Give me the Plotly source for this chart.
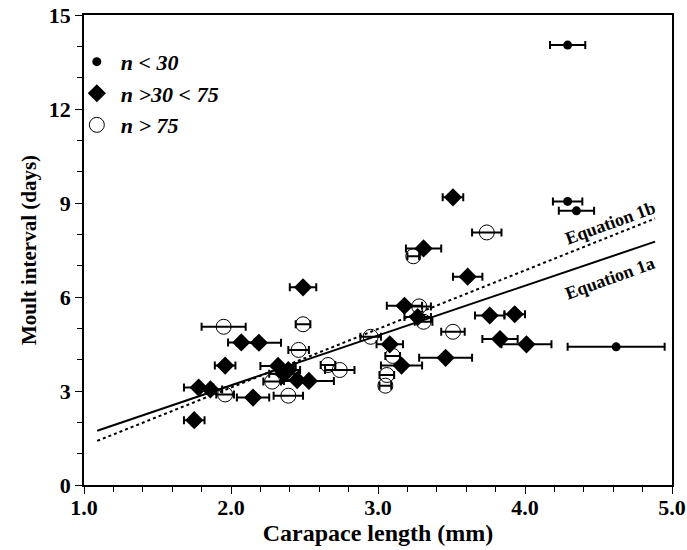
import plotly.graph_objects as go

# n < 30 (filled circles)
small_x = [4.29, 4.29, 4.35, 4.62]
small_y = [14.04, 9.05, 8.75, 4.41]
small_err = [0.12, 0.10, 0.12, 0.33]

# n > 30 < 75 (diamonds)
mid_x = [3.51, 3.31, 3.61, 2.49, 3.18, 3.27, 3.76, 3.93, 3.83, 4.01, 3.08, 3.46, 3.16,
         2.07, 2.19, 1.96, 1.78, 1.86, 2.15, 1.75, 2.32, 2.36, 2.39, 2.45, 2.53]
mid_y = [9.18, 7.55, 6.65, 6.31, 5.72, 5.36, 5.41, 5.45, 4.66, 4.49, 4.49, 4.06, 3.81,
         4.55, 4.54, 3.81, 3.11, 3.05, 2.79, 2.07, 3.80, 3.55, 3.67, 3.35, 3.32]
mid_err = [0.07, 0.12, 0.10, 0.09, 0.12, 0.09, 0.10, 0.07, 0.12, 0.17, 0.09, 0.18, 0.14,
           0.09, 0.15, 0.07, 0.10, 0.08, 0.11, 0.07, 0.12, 0.10, 0.08, 0.10, 0.17]

# n > 75 (open circles)
big_x = [3.74, 3.24, 3.28, 3.31, 3.51, 2.95, 3.10, 3.06, 3.05, 2.49, 2.46, 2.66, 2.74,
         2.39, 2.28, 1.95, 1.96]
big_y = [8.06, 7.30, 5.70, 5.21, 4.89, 4.73, 4.12, 3.51, 3.17, 5.13, 4.31, 3.83, 3.67,
         2.85, 3.30, 5.05, 2.89]
big_err = [0.10, 0.04, 0.08, 0.06, 0.08, 0.07, 0.05, 0.05, 0.04, 0.05, 0.07, 0.05, 0.10,
           0.10, 0.06, 0.15, 0.06]

# Regression lines
line_x = [1.09, 4.885]
eq1a = (1.59, 0.0)     # slope, intercept
eq1b = (1.87, -0.63)

serif = "Liberation Serif"
fig = go.Figure()

def errx(e):
    return dict(type="data", array=e, visible=True, color="black", thickness=2, width=4)

fig.add_trace(go.Scatter(
    x=line_x, y=[eq1a[0] * v + eq1a[1] for v in line_x], mode="lines",
    line=dict(color="black", width=2), showlegend=False, hoverinfo="skip"))
fig.add_trace(go.Scatter(
    x=line_x, y=[eq1b[0] * v + eq1b[1] for v in line_x], mode="lines",
    line=dict(color="black", width=2, dash="dot"), showlegend=False, hoverinfo="skip"))

fig.add_trace(go.Scatter(
    x=small_x, y=small_y, mode="markers", name="<b><i>n &lt; 30</i></b>",
    marker=dict(symbol="circle", size=9, color="black"), error_x=errx(small_err)))
fig.add_trace(go.Scatter(
    x=mid_x, y=mid_y, mode="markers", name="<b><i>n &gt;30 &lt; 75</i></b>",
    marker=dict(symbol="diamond", size=14, color="black"), error_x=errx(mid_err)))
fig.add_trace(go.Scatter(
    x=big_x, y=big_y, mode="markers", name="<b><i>n &gt; 75</i></b>",
    marker=dict(symbol="circle-open", size=15, color="black", line=dict(width=1)),
    error_x=errx(big_err)))

fig.add_annotation(x=4.58, y=8.36, text="<b>Equation 1b</b>",
                   showarrow=False, textangle=-20,
                   font=dict(family=serif, size=18, color="black"))
fig.add_annotation(x=4.58, y=6.61, text="<b>Equation 1a</b>",
                   showarrow=False, textangle=-20,
                   font=dict(family=serif, size=18, color="black"))

fig.update_layout(
    width=687, height=550,
    margin=dict(l=84, r=15, t=15, b=65),
    plot_bgcolor="white", paper_bgcolor="white",
    font=dict(family=serif, color="black"),
    legend=dict(x=-0.019, y=0.945, xanchor="left", yanchor="top",
                font=dict(family=serif, size=22, color="black"),
                bgcolor="rgba(0,0,0,0)", tracegroupgap=0, itemwidth=38),
    xaxis=dict(range=[1.0, 5.0], tickvals=[1, 2, 3, 4, 5],
               ticktext=["1.0", "2.0", "3.0", "4.0", "5.0"], automargin=False,
               ticks="outside", ticklen=7, tickwidth=1, tickcolor="black",
               showline=True, linecolor="black", linewidth=1.5, mirror=True,
               showgrid=False, zeroline=False, ticklabeloverflow="allow",
               ticklabelstandoff=-5,
               tickfont=dict(family=serif, size=22, weight="bold"),
               minor=dict(dtick=0.2, ticks="outside", ticklen=5, tickcolor="black", showgrid=False),
               title=dict(text="<b>Carapace length (mm)</b>", standoff=4,
                          font=dict(family=serif, size=24))),
    yaxis=dict(range=[0, 15], tickvals=[0, 3, 6, 9, 12, 15], automargin=False,
               ticks="outside", ticklen=7, tickwidth=1, tickcolor="black",
               showline=True, linecolor="black", linewidth=1.5, mirror=True,
               showgrid=False, zeroline=False, ticklabeloverflow="allow",
               tickfont=dict(family=serif, size=22, weight="bold"),
               minor=dict(dtick=1, ticks="outside", ticklen=5, tickcolor="black", showgrid=False),
               title=dict(text="<b>Moult interval (days)</b>", standoff=6,
                          font=dict(family=serif, size=21))),
)

# remove the default 8px page margin so the figure sits at the window's top-left
fig.write_html("out.html", config={"displayModeBar": False},
               post_script="document.body.style.margin='0';")
